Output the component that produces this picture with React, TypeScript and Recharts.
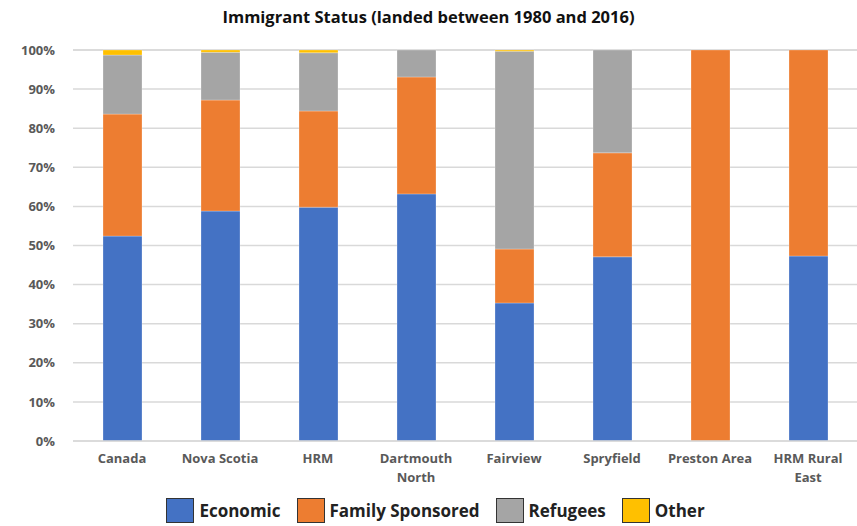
import React from 'react'
import { BarChart, Bar, XAxis, YAxis, CartesianGrid, Legend } from 'recharts'

const regions = ['Canada', 'Nova Scotia', 'HRM', 'Dartmouth North', 'Fairview', 'Spryfield', 'Preston Area', 'HRM Rural East']
const economic = [52.4, 58.8, 59.8, 63.2, 35.3, 47.1, 0, 47.3]
const familySponsored = [31.2, 28.4, 24.6, 29.9, 13.8, 26.6, 100, 52.7]
const refugees = [15.1, 12.2, 14.9, 6.9, 50.6, 26.3, 0, 0]
const other = [1.3, 0.6, 0.7, 0, 0.3, 0, 0, 0]
const yTicks = [0, 10, 20, 30, 40, 50, 60, 70, 80, 90, 100]

const series = [
    { key: 'economic', name: 'Economic', color: '#4472C4' },
    { key: 'family', name: 'Family Sponsored', color: '#ED7D31' },
    { key: 'refugees', name: 'Refugees', color: '#A5A5A5' },
    { key: 'other', name: 'Other', color: '#FFC000' },
]

const data = regions.map((name, i) => ({
    name,
    economic: economic[i],
    family: familySponsored[i],
    refugees: refugees[i],
    other: other[i],
}))

const FONT = '"Open Sans", "Liberation Sans", sans-serif'

// split long names onto two lines like the original
const labelLines: Record<string, string[]> = {
    'Dartmouth North': ['Dartmouth', 'North'],
    'HRM Rural East': ['HRM Rural', 'East'],
}

const CategoryTick = (props: any) => {
    const { x, y, payload } = props
    const lines = labelLines[payload.value] || [payload.value]
    return (
        <text x={x} y={y} textAnchor="middle" fill="#595959" fontSize={13} fontWeight={700} fontFamily={FONT}>
            {lines.map((l, i) => (
                <tspan key={i} x={x} dy={i === 0 ? 14 : 19}>{l}</tspan>
            ))}
        </text>
    )
}

const LegendContent = () => (
    <div style={{ display: 'flex', justifyContent: 'center', alignItems: 'center', gap: 16, paddingTop: 5, paddingLeft: 14, fontFamily: FONT }}>
        {series.map((s) => (
            <div key={s.key} style={{ display: 'flex', alignItems: 'center' }}>
                <span style={{ width: 28, height: 25, background: s.color, border: '1.5px solid #333', boxSizing: 'border-box', marginRight: 5 }} />
                <span style={{ fontSize: 17, fontWeight: 700, color: '#222' }}>{s.name}</span>
            </div>
        ))}
    </div>
)

export default function App() {
    return (
        <div style={{ position: 'absolute', left: 0, top: 0, width: 857, height: 526, background: '#fff' }}>
            <div style={{ position: 'absolute', top: 5, width: 857, textAlign: 'center', fontFamily: FONT, fontWeight: 700, fontSize: 16.5, color: '#111' }}>
                Immigrant Status (landed between 1980 and 2016)
            </div>
            <BarChart width={857} height={526} data={data} margin={{ top: 50, right: 0, left: 0, bottom: 0 }} barSize={39}>
                <CartesianGrid vertical={false} stroke="#d9d9d9" strokeWidth={1.5} />
                <XAxis dataKey="name" tick={<CategoryTick />} tickLine={false} axisLine={{ stroke: '#d9d9d9', strokeWidth: 1.5 }} height={52} interval={0} />
                <YAxis
                    width={73}
                    domain={[0, 100]}
                    ticks={yTicks}
                    tickFormatter={(v) => `${v}%`}
                    axisLine={false}
                    tickLine={false}
                    tick={{ fill: '#595959', fontSize: 13, fontWeight: 700, fontFamily: FONT }}
                    tickMargin={12}
                />
                <Legend verticalAlign="bottom" height={33} content={<LegendContent />} />
                {series.map((s) => (
                    <Bar key={s.key} dataKey={s.key} name={s.name} stackId="a" fill={s.color} stroke="#ffffff" strokeOpacity={0.5} strokeWidth={0.5} isAnimationActive={false} />
                ))}
            </BarChart>
        </div>
    )
}
